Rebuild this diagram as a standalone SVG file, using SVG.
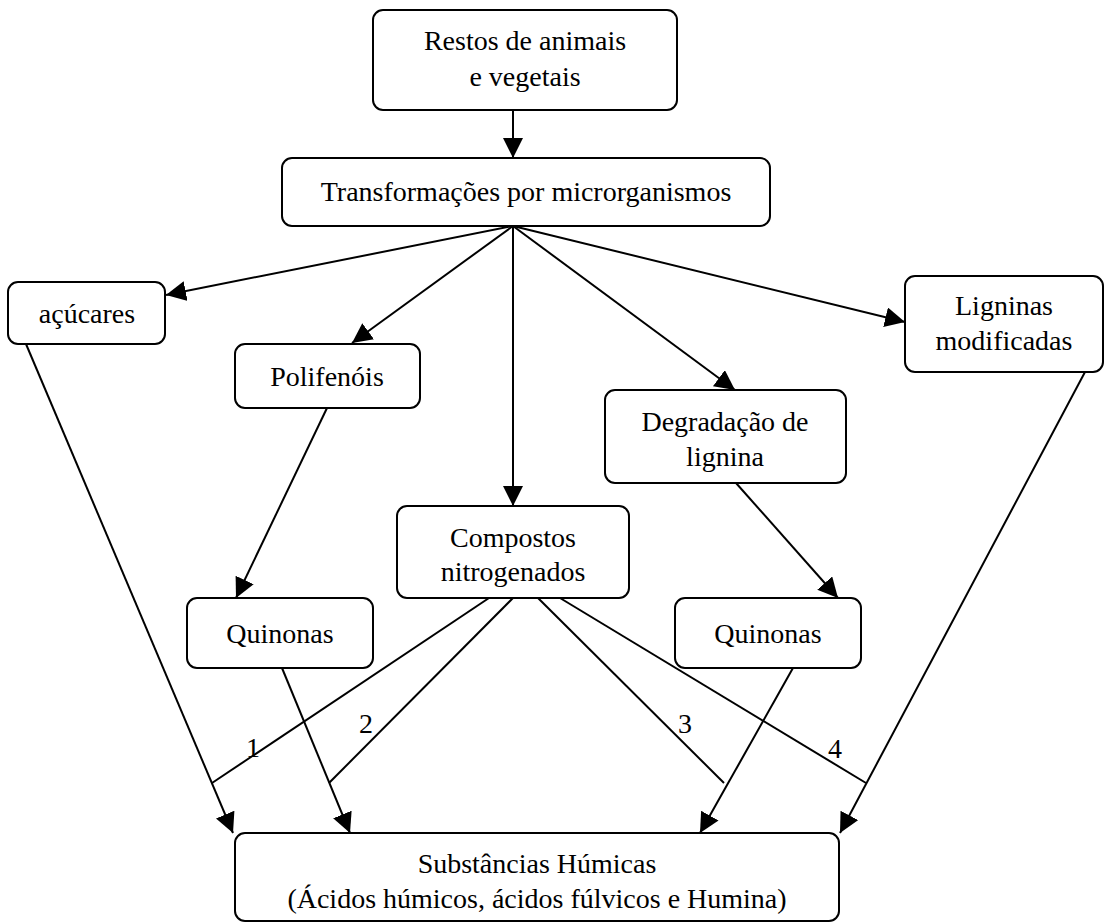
<svg xmlns="http://www.w3.org/2000/svg" width="1111" height="923" viewBox="0 0 1111 923">
<style>
.box{fill:#fff;stroke:#000;stroke-width:2}
.t{font-family:"Liberation Serif","Times New Roman",serif;font-size:28px;fill:#000;text-anchor:middle}
.c{stroke:#000;stroke-width:2;fill:none}
.a{marker-end:url(#ah)}
</style>
<defs>
<marker id="ah" markerUnits="userSpaceOnUse" markerWidth="22" markerHeight="22" refX="20" refY="10" orient="auto" viewBox="0 0 22 22">
<path d="M0,0 L20,10 L0,20 Z" fill="#000"/>
</marker>
</defs>
<rect width="1111" height="923" fill="#fff"/>
<g id="connectors">
<line class="c a" x1="513" y1="110" x2="513" y2="158"/>
<line class="c a" x1="513" y1="226" x2="166" y2="295"/>
<line class="c a" x1="513" y1="226" x2="352" y2="343"/>
<line class="c a" x1="513" y1="226" x2="513" y2="506"/>
<line class="c a" x1="513" y1="226" x2="735" y2="390"/>
<line class="c a" x1="513" y1="226" x2="905" y2="322"/>
<line class="c a" x1="26" y1="344" x2="233" y2="833"/>
<line class="c a" x1="327" y1="408" x2="236" y2="598"/>
<line class="c a" x1="282" y1="668" x2="350" y2="833"/>
<line class="c a" x1="736" y1="483" x2="838" y2="598"/>
<line class="c a" x1="793" y1="668" x2="700" y2="833"/>
<line class="c a" x1="1085" y1="372" x2="840" y2="833"/>
<line class="c" x1="489" y1="598" x2="212" y2="783"/>
<line class="c" x1="513" y1="598" x2="329" y2="783"/>
<line class="c" x1="538" y1="598" x2="724" y2="783"/>
<line class="c" x1="560" y1="598" x2="866" y2="783"/>
<text class="t" x="253" y="757">1</text>
<text class="t" x="366" y="733">2</text>
<text class="t" x="685" y="733">3</text>
<text class="t" x="835" y="758">4</text>
</g>
<g id="restos">
<rect class="box" x="373" y="10" width="304" height="100" rx="10"/>
<text class="t" x="525" y="50">Restos de animais</text>
<text class="t" x="525" y="86">e vegetais</text>
</g>
<g id="transformacoes">
<rect class="box" x="282" y="158" width="488" height="68" rx="10"/>
<text class="t" x="526" y="201">Transformações por microrganismos</text>
</g>
<g id="acucares">
<rect class="box" x="8" y="282" width="157" height="62" rx="10"/>
<text class="t" x="87" y="323">açúcares</text>
</g>
<g id="polifenois">
<rect class="box" x="235" y="344" width="185" height="64" rx="10"/>
<text class="t" x="327" y="386">Polifenóis</text>
</g>
<g id="ligninas">
<rect class="box" x="905" y="276" width="198" height="96" rx="10"/>
<text class="t" x="1004" y="315">Ligninas</text>
<text class="t" x="1004" y="350">modificadas</text>
</g>
<g id="degradacao">
<rect class="box" x="605" y="390" width="241" height="93" rx="10"/>
<text class="t" x="725" y="431">Degradação de</text>
<text class="t" x="725" y="466">lignina</text>
</g>
<g id="compostos">
<rect class="box" x="397" y="506" width="232" height="92" rx="10"/>
<text class="t" x="513" y="547">Compostos</text>
<text class="t" x="513" y="581">nitrogenados</text>
</g>
<g id="quinonas1">
<rect class="box" x="187" y="598" width="186" height="70" rx="10"/>
<text class="t" x="280" y="643">Quinonas</text>
</g>
<g id="quinonas2">
<rect class="box" x="675" y="598" width="186" height="70" rx="10"/>
<text class="t" x="768" y="643">Quinonas</text>
</g>
<g id="substancias">
<rect class="box" x="235" y="833" width="604" height="88" rx="10"/>
<text class="t" x="537" y="873">Substâncias Húmicas</text>
<text class="t" x="537" y="908">(Ácidos húmicos, ácidos fúlvicos e Humina)</text>
</g>
</svg>
